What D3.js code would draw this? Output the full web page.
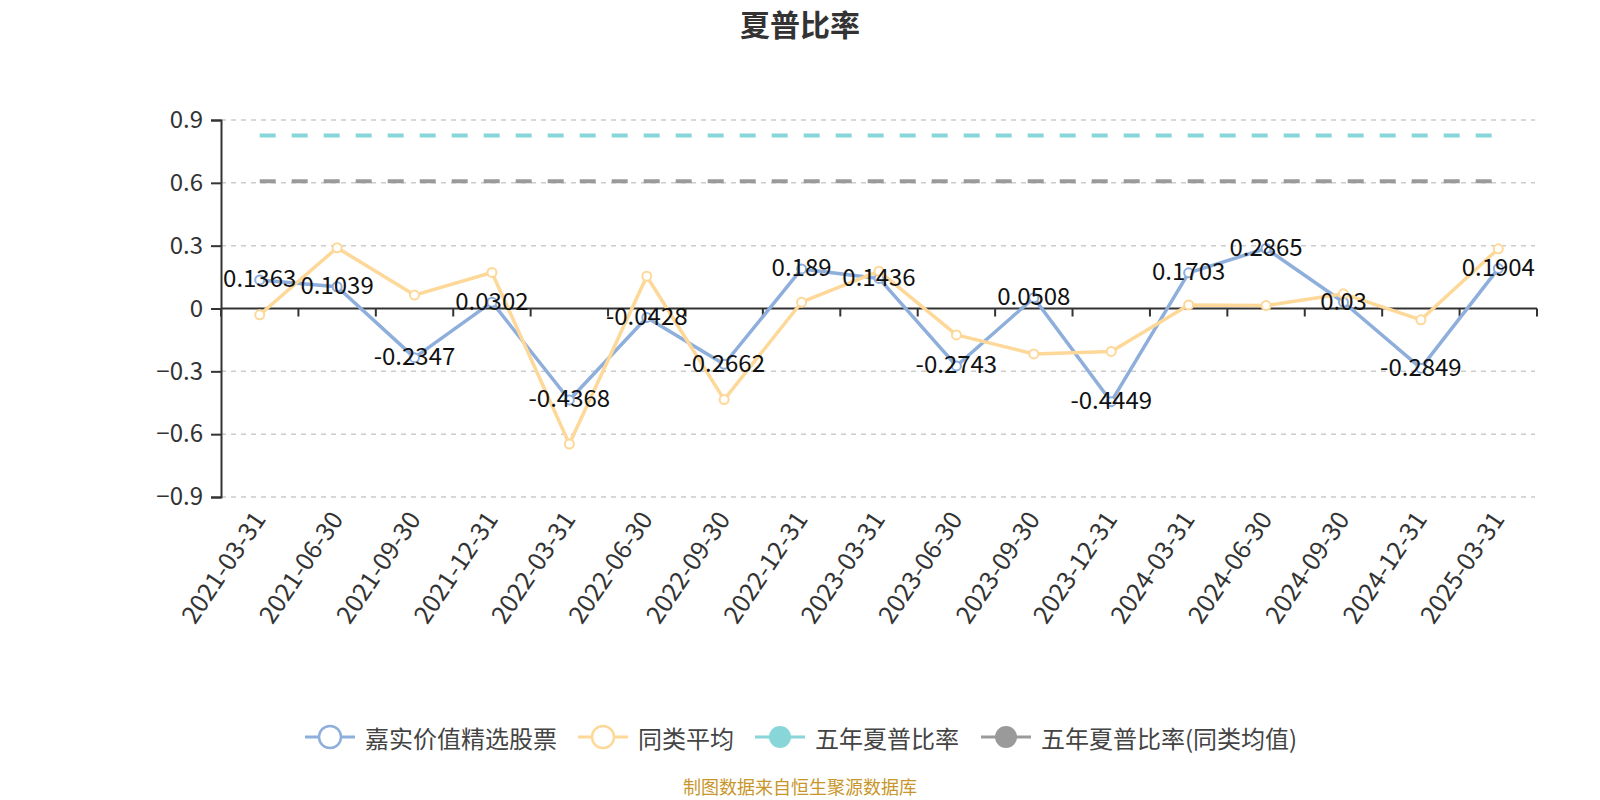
<!DOCTYPE html>
<html>
<head>
<meta charset="utf-8">
<script src="https://cdn.jsdelivr.net/npm/d3@7"></script>
<style>
  html, body { margin: 0; padding: 0; background: #fff; }
  svg text { font-family: "Noto Sans CJK SC", "Noto Sans", sans-serif; }
</style>
</head>
<body>
<svg id="chart" width="1600" height="800"></svg>
<script>
// 数据
const dates = [
  "2021-03-31", "2021-06-30", "2021-09-30", "2021-12-31",
  "2022-03-31", "2022-06-30", "2022-09-30", "2022-12-31",
  "2023-03-31", "2023-06-30", "2023-09-30", "2023-12-31",
  "2024-03-31", "2024-06-30", "2024-09-30", "2024-12-31",
  "2025-03-31"
];
const fundSharpe = [
  0.1363, 0.1039, -0.2347, 0.0302, -0.4368, -0.0428, -0.2662, 0.189,
  0.1436, -0.2743, 0.0508, -0.4449, 0.1703, 0.2865, 0.03, -0.2849, 0.1904
];
const peerSharpe = [
  -0.03, 0.29, 0.064, 0.172, -0.647, 0.154, -0.435, 0.03,
  0.178, -0.126, -0.217, -0.205, 0.017, 0.014, 0.07, -0.054, 0.285
];
const fiveYearSharpe = 0.826;
const fiveYearPeerSharpe = 0.608;
const yTicks = [-0.9, -0.6, -0.3, 0, 0.3, 0.6, 0.9];

const seriesNames = ["嘉实价值精选股票", "同类平均", "五年夏普比率", "五年夏普比率(同类均值)"];
const colors = ["#8eaedc", "#fdd898", "#88d6d8", "#9a9a9a"];

const svg = d3.select("#chart");
const plotLeft = 221, plotRight = 1537, plotTop = 120, plotBottom = 497;

const x = d3.scaleBand().domain(dates).range([plotLeft, plotRight]);
const cx = d => x(d) + x.bandwidth() / 2;
const y = d3.scaleLinear().domain([-0.9, 0.9]).range([plotBottom, plotTop]);

// 标题
svg.append("text")
  .attr("x", 800).attr("y", 23)
  .attr("text-anchor", "middle").attr("dominant-baseline", "central")
  .style("font-size", "30px").style("font-weight", "bold").style("fill", "#333")
  .text("夏普比率");

// 网格线
svg.append("g").selectAll("line")
  .data(yTicks.filter(t => t !== 0))
  .enter().append("line")
  .attr("x1", plotLeft).attr("x2", plotRight - 2)
  .attr("y1", d => y(d)).attr("y2", d => y(d))
  .attr("stroke", "#cccccc").attr("stroke-width", 1.5)
  .attr("stroke-dasharray", "5,5");

// y 轴
const yAxis = svg.append("g").attr("transform", `translate(${plotLeft},0)`)
  .call(d3.axisLeft(y).tickValues(yTicks).tickSize(10).tickPadding(8)
    .tickFormat(d => d === 0 ? "0" : d3.format(".1f")(d)));
yAxis.select(".domain").attr("stroke", "#333").attr("stroke-width", 2);
yAxis.selectAll(".tick line").attr("stroke", "#333").attr("stroke-width", 2);
yAxis.selectAll(".tick text")
  .style("font-size", "24px").style("fill", "#333")
  .style("font-family", "'Noto Sans CJK SC', 'Noto Sans', sans-serif");

// x 轴（零线）
const zeroY = y(0);
svg.append("line")
  .attr("x1", plotLeft).attr("x2", plotRight)
  .attr("y1", zeroY).attr("y2", zeroY)
  .attr("stroke", "#333").attr("stroke-width", 2);
svg.append("g").selectAll("line")
  .data(dates.map(d => x(d)).concat([plotRight]))
  .enter().append("line")
  .attr("x1", d => d).attr("x2", d => d)
  .attr("y1", zeroY).attr("y2", zeroY + 8)
  .attr("stroke", "#333").attr("stroke-width", 2);

// x 轴标签
svg.append("g").selectAll("text")
  .data(dates)
  .enter().append("text")
  .attr("transform", d => `translate(${cx(d) - 2},${plotBottom + 16}) rotate(-56)`)
  .attr("text-anchor", "end").attr("dominant-baseline", "central")
  .style("font-size", "25px").style("fill", "#333")
  .text(d => d);

// 五年夏普比率参考线
const refLines = [
  { value: fiveYearSharpe, color: colors[2] },
  { value: fiveYearPeerSharpe, color: colors[3] }
];
svg.append("g").selectAll("line")
  .data(refLines)
  .enter().append("line")
  .attr("x1", cx(dates[0])).attr("x2", cx(dates[dates.length - 1]))
  .attr("y1", d => y(d.value)).attr("y2", d => y(d.value))
  .attr("stroke", d => d.color).attr("stroke-width", 4)
  .attr("stroke-dasharray", "16,16");

// 折线
const line = d3.line().x((d, i) => cx(dates[i])).y(d => y(d));
const lineSeries = [
  { values: fundSharpe, color: colors[0] },
  { values: peerSharpe, color: colors[1] }
];
lineSeries.forEach(s => {
  svg.append("path")
    .datum(s.values)
    .attr("d", line)
    .attr("fill", "none")
    .attr("stroke", s.color)
    .attr("stroke-width", 3.5)
    .attr("stroke-linejoin", "round");
  svg.append("g").selectAll("circle")
    .data(s.values)
    .enter().append("circle")
    .attr("cx", (d, i) => cx(dates[i]))
    .attr("cy", d => y(d))
    .attr("r", 4.5)
    .attr("fill", "#fff")
    .attr("stroke", s.color)
    .attr("stroke-width", 2);
});

// 数据标签
svg.append("g").selectAll("text")
  .data(fundSharpe)
  .enter().append("text")
  .attr("x", (d, i) => cx(dates[i]))
  .attr("y", d => y(d) - 3)
  .attr("text-anchor", "middle").attr("dominant-baseline", "central")
  .style("font-size", "24px").style("fill", "#111")
  .text(d => String(d));

// 图例
const legendX = [305, 578, 755, 981];
const legend = svg.append("g").selectAll("g")
  .data(seriesNames)
  .enter().append("g")
  .attr("transform", (d, i) => `translate(${legendX[i]},737)`);
legend.append("line")
  .attr("x1", 0).attr("x2", 50).attr("y1", 0).attr("y2", 0)
  .attr("stroke", (d, i) => colors[i]).attr("stroke-width", 3);
legend.append("circle")
  .attr("cx", 25).attr("cy", 0)
  .attr("r", 11)
  .attr("fill", (d, i) => i < 2 ? "#fff" : colors[i])
  .attr("stroke", (d, i) => colors[i])
  .attr("stroke-width", (d, i) => i < 2 ? 2.5 : 0);
legend.append("text")
  .attr("x", 60).attr("y", 0)
  .attr("dominant-baseline", "central")
  .style("font-size", "24px").style("fill", "#444")
  .text(d => d);

// 数据来源
svg.append("text")
  .attr("x", 800).attr("y", 786)
  .attr("text-anchor", "middle").attr("dominant-baseline", "central")
  .style("font-size", "18px").style("fill", "#c8962a")
  .text("制图数据来自恒生聚源数据库");
</script>
</body>
</html>
